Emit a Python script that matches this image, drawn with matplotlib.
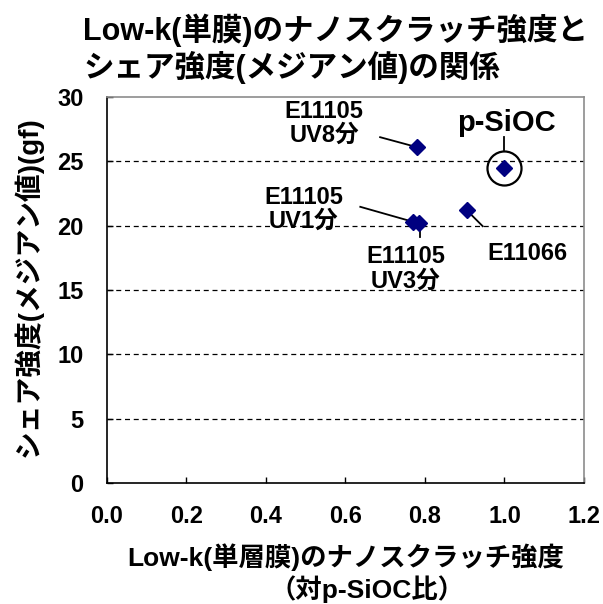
import matplotlib
matplotlib.use("Agg")
import matplotlib.pyplot as plt
import matplotlib.transforms as mtransforms

plt.rcParams["font.family"] = ["Liberation Sans", "Noto Sans CJK JP", "DejaVu Sans"]
plt.rcParams["font.weight"] = "bold"

# nano-scratch strength ratio vs p-SiOC, and median shear strength (gf)
labels = ["E11105\nUV8分", "p-SiOC", "E11105\nUV1分", "E11105\nUV3分", "E11066"]
scratch_ratio = [0.78, 1.00, 0.77, 0.785, 0.905]
shear_gf = [26.1, 24.5, 20.3, 20.2, 21.2]

x_ticks = [0.0, 0.2, 0.4, 0.6, 0.8, 1.0, 1.2]
y_ticks = [0, 5, 10, 15, 20, 25, 30]

# label placement: (text offset, line start, line end) in points from the marker
callouts = {
    "E11105\nUV8分": ((-67, 17), (-26.6, 7.2), (0, 0)),
    "p-SiOC": ((1.4, 32), (0, 22), (0, 12.5)),
    "E11105\nUV1分": ((-79, 9), (-38, 10.8), (0, 0)),
    "E11105\nUV3分": ((-9.4, -33), (1, -3), (1, -10)),
    "E11066": ((44, -31), (0, 0), (11.5, -11.5)),
}

fig = plt.figure(figsize=(6.03, 6.04), dpi=100)
ax = fig.add_axes([0.1774, 0.2003, 0.7911, 0.6391])

ax.set_xlim(0, 1.2)
ax.set_ylim(0, 30)
ax.set_xticks(x_ticks)
ax.set_xticklabels([f"{v:.1f}" for v in x_ticks])
ax.set_yticks(y_ticks)
ax.tick_params(direction="in", length=4, width=1, labelsize=17, colors="black")
ax.tick_params(axis="x", pad=16)
ax.tick_params(axis="y", pad=17)

for y in y_ticks[1:-1]:
    ax.axhline(y, color="black", lw=0.9, ls=(0, (4, 3)), zorder=1)

ax.spines["left"].set_color("black")
ax.spines["bottom"].set_color("black")
ax.spines["top"].set_color("#8c8c8c")
ax.spines["right"].set_color("#8c8c8c")
for s in ax.spines.values():
    s.set_linewidth(1.2)

ax.plot(scratch_ratio, shear_gf, ls="none", marker="D", ms=8,
        color="#000080", zorder=3)

# reference sample ringed
ref = labels.index("p-SiOC")
ax.plot(scratch_ratio[ref], shear_gf[ref], ls="none", marker="o", ms=24.5,
        mfc="none", mec="black", mew=1.6, zorder=4)

pt_to_px = mtransforms.Affine2D().scale(1 / 72) + fig.dpi_scale_trans
for name, xv, yv in zip(labels, scratch_ratio, shear_gf):
    txt_off, l0, l1 = callouts[name]
    at_point = pt_to_px + mtransforms.ScaledTranslation(xv, yv, ax.transData)
    ax.plot([l0[0], l1[0]], [l0[1], l1[1]], color="black", lw=1.3,
            transform=at_point, clip_on=False, zorder=2)
    big = name == "p-SiOC"
    ax.annotate(name, xy=(xv, yv), xytext=txt_off, textcoords="offset points",
                ha="center", va="center", fontsize=21 if big else 17,
                fontweight="bold", linespacing=1.05, zorder=5)

fig.text(0.138, 0.95, "Low-k(単膜)のナノスクラッチ強度と", fontsize=22,
         fontweight="bold", ha="left", va="center")
fig.text(0.138, 0.888, "シェア強度(メジアン値)の関係", fontsize=22,
         fontweight="bold", ha="left", va="center")

fig.text(0.574, 0.077, "Low-k(単層膜)のナノスクラッチ強度", fontsize=19,
         fontweight="bold", ha="center", va="center")
fig.text(0.608, 0.025, "（対p-SiOC比）", fontsize=19,
         fontweight="bold", ha="center", va="center")
fig.text(0.046, 0.525, "シェア強度(メジアン値)(gf)", fontsize=20,
         fontweight="bold", ha="center", va="center", rotation=90)

fig.savefig("out.png", dpi=100)
